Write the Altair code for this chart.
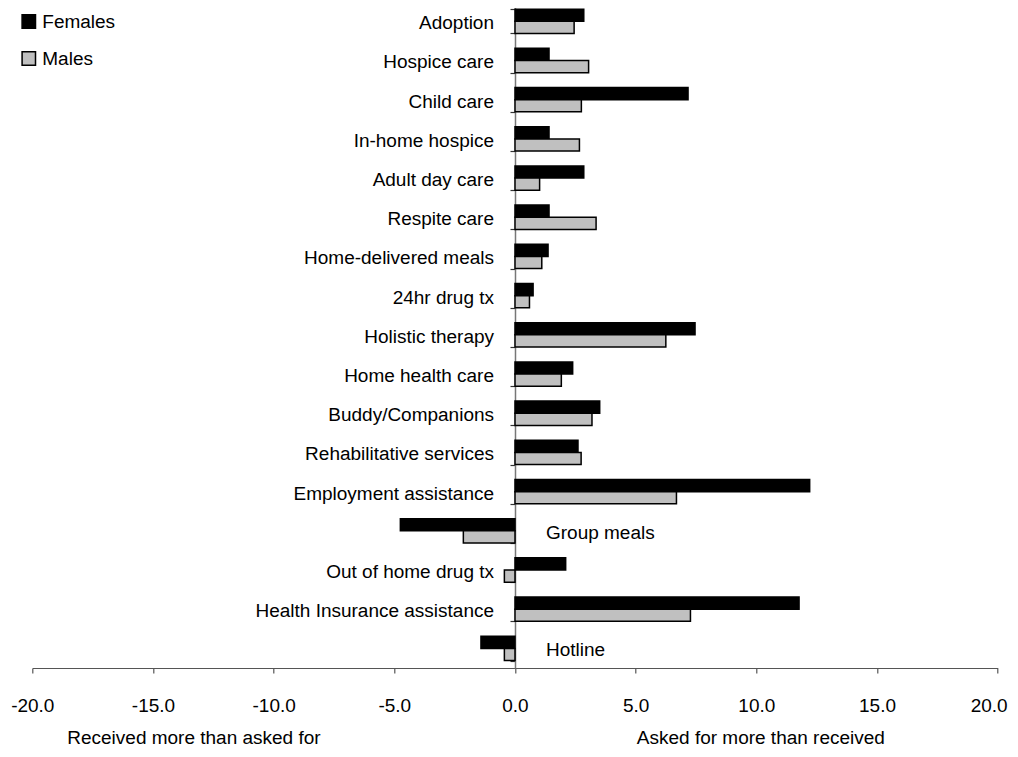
import altair as alt
import pandas as pd

categories = [
    "Adoption", "Hospice care", "Child care", "In-home hospice", "Adult day care",
    "Respite care", "Home-delivered meals", "24hr drug tx", "Holistic therapy",
    "Home health care", "Buddy/Companions", "Rehabilitative services",
    "Employment assistance", "Group meals", "Out of home drug tx",
    "Health Insurance assistance", "Hotline",
]
females = [2.85, 1.41, 7.17, 1.41, 2.85, 1.41, 1.37, 0.75, 7.46, 2.39, 3.51, 2.61,
           12.21, -4.75, 2.10, 11.77, -1.41]
males = [2.45, 3.05, 2.75, 2.67, 1.02, 3.36, 1.11, 0.60, 6.25, 1.92, 3.19, 2.74,
         6.69, -2.14, -0.44, 7.27, -0.44]
series = ["Females", "Males"]
series_colors = ["#000000", "#c0c0c0"]
x_ticks = [-20, -15, -10, -5, 0, 5, 10, 15, 20]
notes = ["Received more than asked for", "Asked for more than received"]
note_x = [-18.55, 5.05]

rows = []
for c, f, m in zip(categories, females, males):
    rows.append({"category": c, "series": "Females", "value": f})
    rows.append({"category": c, "series": "Males", "value": m})
bars_df = pd.DataFrame(rows)
labels_df = pd.DataFrame({"category": categories, "female": females})
notes_df = pd.DataFrame({"note": notes, "x": note_x})

FONT = "Liberation Sans"
FS = 19
PLOT_W = 965.4
PLOT_H = 660
ZERO_PX = 482.7

x_scale = alt.Scale(domain=[-20, 20], nice=False, zero=False)
x_axis = alt.Axis(values=x_ticks, title=None, grid=False,
                  labelExpr="(datum.value < 0 ? '-' : '') + format(abs(datum.value), '.1f')",
                  labelFont=FONT, labelFontSize=FS, labelColor="black",
                  tickSize=5, tickColor="#555555", domainColor="#555555",
                  domainWidth=1.2, tickWidth=1.2,
                  labelPadding=24, labelFlush=False, labelOverlap=False,
                  labelOffset=alt.condition("datum.value == 20", alt.value(-9), alt.value(0)))
y_scale = alt.Scale(domain=categories, range=[-6.3, PLOT_H],
                    paddingInner=0.38, paddingOuter=0.19)
y_axis = alt.Axis(orient="left", offset=-ZERO_PX, labels=False, title=None,
                  grid=False, domainColor="#777777", domainWidth=1.5,
                  tickColor="#333333", tickSize=5, tickBand="extent", tickWidth=1.2)

y_enc = alt.Y("category:N", scale=y_scale, sort=categories, axis=y_axis)

bars = alt.Chart(bars_df).mark_bar(stroke="black", strokeWidth=1.5).encode(
    x=alt.X("value:Q", scale=x_scale, axis=x_axis),
    y=y_enc,
    yOffset=alt.YOffset("series:N", sort=series,
                        scale=alt.Scale(domain=series, paddingInner=0, paddingOuter=0)),
    color=alt.Color("series:N",
                    scale=alt.Scale(domain=series, range=series_colors),
                    legend=alt.Legend(orient="none", legendX=-13, legendY=4, title=None,
                                      symbolType="square", symbolSize=180,
                                      symbolStrokeColor="black", symbolStrokeWidth=1.5,
                                      labelFont=FONT, labelFontSize=FS, labelColor="black",
                                      labelOffset=4, rowPadding=16, padding=0)),
)

pos_labels = alt.Chart(labels_df).transform_filter("datum.female >= 0").mark_text(
    align="right", baseline="middle", dx=-21, dy=2, font=FONT, fontSize=FS, color="black"
).encode(
    x=alt.XDatum(0, type="quantitative", scale=x_scale, axis=x_axis),
    y=y_enc,
    text="category:N",
)

neg_labels = alt.Chart(labels_df).transform_filter("datum.female < 0").mark_text(
    align="left", baseline="middle", dx=31, dy=2, font=FONT, fontSize=FS, color="black"
).encode(
    x=alt.XDatum(0, type="quantitative", scale=x_scale, axis=x_axis),
    y=y_enc,
    text="category:N",
)

note_text = alt.Chart(notes_df).mark_text(
    align="left", baseline="middle", font=FONT, fontSize=FS, color="black"
).encode(
    x=alt.X("x:Q", scale=x_scale, axis=x_axis),
    y=alt.value(730),
    text="note:N",
)

chart = alt.layer(bars, pos_labels, neg_labels, note_text).properties(
    width=PLOT_W, height=PLOT_H,
    autosize=alt.AutoSizeParams(type="none"),
    padding={"left": 24.3, "top": 0, "right": 12, "bottom": 80},
).configure_view(stroke=None)

chart.save("out.html", embed_options={"renderer": "svg", "actions": False})
